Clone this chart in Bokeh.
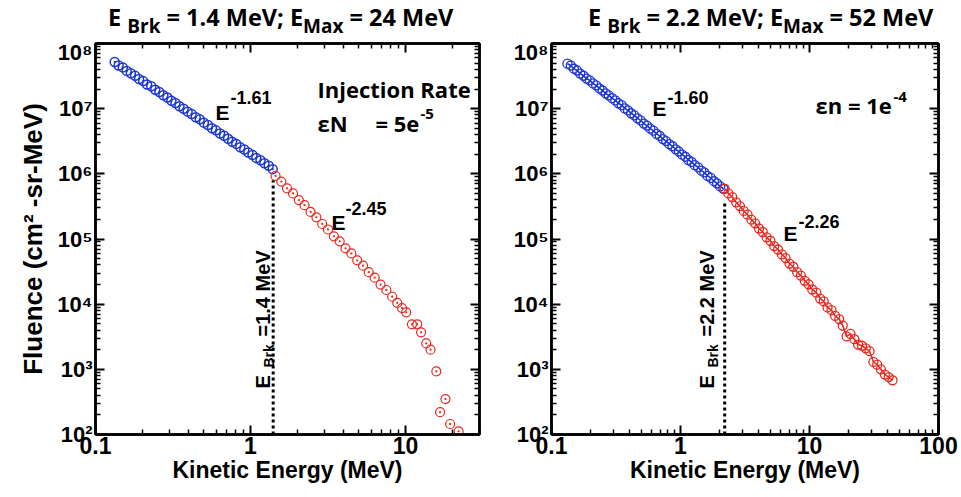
from bokeh.plotting import figure
from bokeh.models import FixedTicker, CustomJSTickFormatter, Label, Range1d, LogAxis, Div
from bokeh.layouts import row, column
from bokeh.embed import file_html
from bokeh.resources import INLINE

# ---------------- data ----------------
left_blue_energy = [0.133, 0.141, 0.150, 0.159, 0.169, 0.180, 0.191, 0.203, 0.215, 0.229,
                    0.243, 0.258, 0.274, 0.291, 0.309, 0.328, 0.348, 0.370, 0.393, 0.417,
                    0.443, 0.471, 0.500, 0.531, 0.564, 0.598, 0.636, 0.675, 0.717, 0.762,
                    0.809, 0.859, 0.912, 0.968, 1.03, 1.09, 1.16, 1.23, 1.31, 1.39]
left_blue_fluence = [5.2e7, 4.6e7, 4.3e7, 3.8e7, 3.5e7, 3.2e7, 2.85e7, 2.65e7, 2.35e7, 2.2e7,
                     1.95e7, 1.8e7, 1.6e7, 1.48e7, 1.32e7, 1.22e7, 1.09e7, 1.0e7, 9.0e6, 8.3e6,
                     7.4e6, 6.85e6, 6.1e6, 5.6e6, 5.0e6, 4.65e6, 4.15e6, 3.85e6, 3.45e6, 3.1e6,
                     2.88e6, 2.55e6, 2.36e6, 2.12e6, 1.95e6, 1.75e6, 1.62e6, 1.45e6, 1.33e6, 1.18e6]
left_red_energy = [1.45, 1.58, 1.72, 1.88, 2.05, 2.23, 2.44, 2.66, 2.90, 3.16,
                   3.45, 3.76, 4.10, 4.47, 4.88, 5.32, 5.79, 6.32, 6.90, 7.52,
                   8.20, 8.84, 9.5, 10.1, 11.0, 11.9, 12.6, 13.6, 14.5, 15.8,
                   16.7, 18.1, 19.4, 22.0]
left_red_fluence = [9.3e5, 7.6e5, 6.0e5, 5.0e5, 3.95e5, 3.3e5, 2.6e5, 2.15e5, 1.7e5, 1.4e5,
                    1.1e5, 9.2e4, 7.2e4, 6.0e4, 4.7e4, 3.9e4, 3.1e4, 2.55e4, 2.0e4, 1.65e4,
                    1.3e4, 1.05e4, 8.7e3, 7.5e3, 4.9e3, 4.9e3, 3.7e3, 2.5e3, 2.0e3, 9.3e2,
                    2.2e2, 3.5e2, 1.45e2, 1.12e2]

right_blue_energy = [0.133, 0.141, 0.149, 0.158, 0.167, 0.177, 0.187, 0.198, 0.210, 0.222,
                     0.235, 0.249, 0.263, 0.278, 0.295, 0.312, 0.330, 0.350, 0.370, 0.392,
                     0.414, 0.439, 0.464, 0.491, 0.520, 0.550, 0.583, 0.617, 0.653, 0.691,
                     0.731, 0.774, 0.819, 0.867, 0.918, 0.972, 1.03, 1.09, 1.15, 1.22,
                     1.29, 1.37, 1.45, 1.53, 1.62, 1.72, 1.82, 1.92, 2.03, 2.15]
right_blue_fluence = [4.9e7, 4.6e7, 4.1e7, 3.85e7, 3.45e7, 3.2e7, 2.9e7, 2.72e7, 2.44e7, 2.28e7,
                      2.05e7, 1.9e7, 1.72e7, 1.6e7, 1.45e7, 1.34e7, 1.21e7, 1.13e7, 1.01e7, 9.4e6,
                      8.5e6, 7.9e6, 7.1e6, 6.6e6, 5.9e6, 5.5e6, 4.95e6, 4.6e6, 4.1e6, 3.82e6,
                      3.42e6, 3.18e6, 2.85e6, 2.65e6, 2.38e6, 2.2e6, 1.97e6, 1.83e6, 1.63e6, 1.52e6,
                      1.36e6, 1.26e6, 1.12e6, 1.05e6, 9.3e5, 8.65e5, 7.7e5, 7.15e5, 6.4e5, 5.9e5]
right_red_energy = [2.20, 2.35, 2.52, 2.70, 2.89, 3.09, 3.31, 3.54, 3.79, 4.06,
                    4.34, 4.65, 4.98, 5.33, 5.70, 6.11, 6.53, 7.00, 7.49, 8.02,
                    8.58, 9.19, 9.83, 10.5, 11.3, 12.1, 12.9, 13.8, 14.8, 15.8,
                    17.0, 18.1, 19.4, 20.8, 22.3, 23.8, 25.5, 27.3, 29.2, 31.3,
                    33.5, 35.8, 38.4, 41.1, 44.0]
right_red_fluence = [5.9e5, 5.0e5, 4.4e5, 3.65e5, 3.2e5, 2.7e5, 2.36e5, 1.98e5, 1.74e5, 1.45e5,
                     1.28e5, 1.06e5, 9.4e4, 7.8e4, 6.9e4, 5.8e4, 5.1e4, 4.2e4, 3.75e4, 3.1e4,
                     2.75e4, 2.28e4, 2.02e4, 1.68e4, 1.5e4, 1.22e4, 1.1e4, 8.9e3, 8.1e3, 6.6e3,
                     5.9e3, 4.7e3, 3.2e3, 3.5e3, 2.9e3, 2.4e3, 2.3e3, 2.1e3, 1.9e3, 1.3e3,
                     1.18e3, 1.0e3, 8.3e2, 7.6e2, 6.8e2]

left_break_energy = 1.4
left_break_top = 8.0e5
right_break_energy = 2.2
right_break_top = 3.9e5
left_xmax = 30
right_xmax = 100

x_ticks_left = [0.1, 1, 10]
x_ticks_right = [0.1, 1, 10, 100]
y_ticks = [1e2, 1e3, 1e4, 1e5, 1e6, 1e7, 1e8]

left_title = ("1.4", "24")
right_title = ("2.2", "52")

BLUE = "#1c36d2"
RED = "#e8291f"
AXFONT = "Liberation Sans"
TFONT = "Open Sans"

x_minor = [m * 10.0 ** k for k in (-1, 0, 1) for m in range(2, 10)]
y_minor = [m * 10.0 ** k for k in range(2, 8) for m in range(2, 10)]

y_fmt_code = """
const sup = {'0':'\u2070','1':'\u00b9','2':'\u00b2','3':'\u00b3','4':'\u2074','5':'\u2075',
             '6':'\u2076','7':'\u2077','8':'\u2078','9':'\u2079','-':'\u207b'};
const e = Math.round(Math.log10(tick));
return '10' + String(e).split('').map(c => sup[c]).join('');
"""
x_fmt_code = "return tick < 1 ? tick.toFixed(1) : tick.toFixed(0);"

TITLE_H = 39
MAIN_H = 457


def style_axis(ax, labels=True, size="23px"):
    ax.axis_line_width = 2.5
    ax.axis_line_color = "black"
    ax.major_tick_in = 9
    ax.major_tick_out = 0
    ax.minor_tick_in = 5
    ax.minor_tick_out = 0
    ax.major_tick_line_width = 2
    ax.minor_tick_line_width = 1.5
    ax.major_label_standoff = 0
    if labels:
        ax.major_label_text_font = AXFONT
        ax.major_label_text_font_style = "bold"
        ax.major_label_text_font_size = size
        ax.major_label_text_color = "black"
    else:
        ax.formatter = CustomJSTickFormatter(code="return '';")
        ax.major_label_text_font_size = "0px"


def make_fig(width, bl, br, xmax, xticks, ylabel):
    p = figure(width=width, height=MAIN_H, x_axis_type="log", y_axis_type="log",
               x_range=Range1d(0.1, xmax), y_range=Range1d(1e2, 1e8),
               output_backend="svg", toolbar_location=None,
               min_border_left=bl, min_border_right=br,
               min_border_top=4, min_border_bottom=62)
    p.xgrid.grid_line_color = None
    p.ygrid.grid_line_color = None
    p.outline_line_color = "black"
    p.outline_line_width = 2.5
    p.background_fill_color = "white"
    p.border_fill_color = "white"

    xminor = [v for v in x_minor if v <= xmax]
    xa = p.xaxis[0]
    xa.ticker = FixedTicker(ticks=xticks, minor_ticks=xminor)
    xa.formatter = CustomJSTickFormatter(code=x_fmt_code)
    style_axis(xa, size="23px")
    xa.major_label_standoff = 2
    xa.axis_label = "Kinetic Energy (MeV)"
    xa.axis_label_text_font = AXFONT
    xa.axis_label_text_font_style = "bold"
    xa.axis_label_text_font_size = "23px"
    xa.axis_label_text_color = "black"
    xa.axis_label_standoff = 0

    ya = p.yaxis[0]
    ya.ticker = FixedTicker(ticks=y_ticks, minor_ticks=y_minor)
    ya.formatter = CustomJSTickFormatter(code=y_fmt_code)
    style_axis(ya, size="22px")
    ya.major_label_standoff = 3
    if ylabel:
        ya.axis_label = ylabel
        ya.axis_label_text_font = AXFONT
        ya.axis_label_text_font_style = "bold"
        ya.axis_label_text_font_size = "26px"
        ya.axis_label_text_color = "black"
        ya.axis_label_standoff = 6

    top = LogAxis(ticker=FixedTicker(ticks=xticks, minor_ticks=xminor))
    style_axis(top, labels=False)
    p.add_layout(top, "above")
    rgt = LogAxis(ticker=FixedTicker(ticks=y_ticks, minor_ticks=y_minor))
    style_axis(rgt, labels=False)
    p.add_layout(rgt, "right")
    return p


def title_div(width, pad_left, brk, emax):
    sub = "font-size:19px;vertical-align:-7px;line-height:0"
    html = (f'<div style="font-family:{TFONT};font-weight:bold;font-size:23.5px;line-height:25px;'
            f'white-space:nowrap;padding-left:{pad_left}px;margin-top:5px;color:black">'
            f'E <span style="{sub}">Brk</span> = {brk} MeV; E<span style="{sub}">Max</span>'
            f' = {emax} MeV</div>')
    return Div(text=html, width=width, height=TITLE_H, margin=(0, 0, 0, 0))


def lab(p, text, x, y, size, font=AXFONT, angle=0):
    p.add_layout(Label(x=x, y=y, x_units="screen", y_units="screen", text=text,
                       text_font=font, text_font_style="bold", text_font_size=f"{size}px",
                       text_color="black", text_baseline="alphabetic", text_align="left",
                       angle=angle, angle_units="deg"))


# ---------------- left panel ----------------
t1 = title_div(504, 108, *left_title)

p1 = make_fig(504, 95, 25, left_xmax, x_ticks_left, "Fluence (cm\u00b2 -sr-MeV)")
p1.line([left_break_energy, left_break_energy], [1e2, left_break_top],
        line_color="black", line_width=3, line_dash="3 3")
p1.scatter(left_blue_energy, left_blue_fluence, marker="circle_dot", size=9,
           line_color=BLUE, fill_color=None, line_width=1.5)
p1.scatter(left_red_energy, left_red_fluence, marker="circle_dot", size=9,
           line_color=RED, fill_color=None, line_width=1.2)

lab(p1, "E", 120, 322, 21)
lab(p1, "-1.61", 135, 337, 18)
lab(p1, "E", 236, 212, 21)
lab(p1, "-2.45", 250, 226, 18)
lab(p1, "Injection Rate", 222, 346, 22, TFONT)
lab(p1, "\u03b5N", 222, 312, 22, TFONT)
lab(p1, "= 5e", 280, 312, 22, TFONT)
lab(p1, "-5", 325, 321, 15, TFONT)
lab(p1, "E", 167, 46, 20, angle=90)
lab(p1, "Brk", 173, 67, 14, angle=90)
lab(p1, "=1.4 MeV", 167, 98, 20, angle=90)

# ---------------- right panel ----------------
t2 = title_div(456, 84, *right_title)

p2 = make_fig(456, 47, 22, right_xmax, x_ticks_right, None)
p2.line([right_break_energy, right_break_energy], [1e2, right_break_top],
        line_color="black", line_width=3, line_dash="3 3")
p2.line(right_blue_energy, right_blue_fluence, line_color=BLUE, line_width=1.6)
p2.scatter(right_blue_energy, right_blue_fluence, marker="circle", size=9,
           line_color=BLUE, fill_color=None, line_width=1.3)
p2.line(right_red_energy, right_red_fluence, line_color=RED, line_width=1.6)
p2.scatter(right_red_energy, right_red_fluence, marker="circle", size=9,
           line_color=RED, fill_color=None, line_width=1.3)

lab(p2, "E", 101, 326, 21)
lab(p2, "-1.60", 116, 337, 18)
lab(p2, "E", 232, 201, 21)
lab(p2, "-2.26", 247, 213, 18)
lab(p2, "\u03b5n = 1e", 264, 330, 22, TFONT)
lab(p2, "-4", 342, 338, 15, TFONT)
lab(p2, "E", 155, 46, 20, angle=90)
lab(p2, "Brk", 161, 67, 14, angle=90)
lab(p2, "=2.2 MeV", 155, 98, 20, angle=90)

layout = row(column(t1, p1), column(t2, p2))
open("out.html", "w").write(file_html(layout, INLINE))
